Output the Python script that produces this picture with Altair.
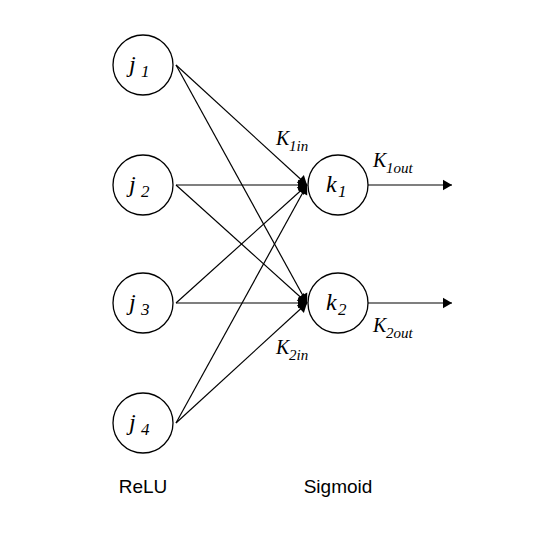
import altair as alt
import pandas as pd
import numpy as np

# node centres in page pixels
j_names = ["j1", "j2", "j3", "j4"]
j_x = [143, 143, 143, 143]
j_y = [65, 185, 303, 423]
k_names = ["k1", "k2"]
k_x = [338, 338]
k_y = [185, 303]

# edges: (from x, from y, to x, to y)
edge_x1 = [176, 176, 176, 176, 176, 176, 176, 176, 368, 368]
edge_y1 = [65, 65, 185, 185, 303, 303, 423, 423, 185, 303]
edge_x2 = [307, 307, 307, 307, 307, 307, 307, 307, 452, 452]
edge_y2 = [185, 303, 185, 303, 185, 303, 185, 303, 185, 303]

# text labels: main letter + subscript
lab_text = ["j", "1", "j", "2", "j", "3", "j", "4", "k", "1", "k", "2",
            "K", "1in", "K", "1out", "K", "2out", "K", "2in"]
lab_x = [129, 141, 129, 141, 129, 141, 129, 141, 326, 338, 326, 338,
         276, 289, 373, 386, 373, 386, 276, 289]
lab_y = [65, 72, 185, 192, 303, 310, 423, 430, 185, 192, 303, 310,
         139, 146, 161, 168, 326, 333, 348, 355]
lab_size = [24, 17, 24, 17, 24, 17, 24, 17, 24, 17, 24, 17,
            20, 15, 20, 15, 20, 15, 20, 15]

cap_text = ["ReLU", "Sigmoid"]
cap_x = [143, 338]
cap_y = [487, 487]

nodes = pd.DataFrame({"name": j_names + k_names, "x": j_x + k_x, "y": j_y + k_y})
edges = pd.DataFrame({"x": edge_x1, "y": edge_y1, "x2": edge_x2, "y2": edge_y2})
dx = edges.x2 - edges.x
dy = edges.y2 - edges.y
length = np.hypot(dx, dy)
edges["hx"] = edges.x2 - 6 * dx / length
edges["hy"] = edges.y2 - 6 * dy / length
edges["angle"] = np.degrees(np.arctan2(dx, -dy)) % 360
labels = pd.DataFrame({"t": lab_text, "x": lab_x, "y": lab_y, "s": lab_size})
caps = pd.DataFrame({"t": cap_text, "x": cap_x, "y": cap_y})

X = alt.Scale(domain=[8, 537])
Y = alt.Scale(domain=[8, 530], reverse=True)

lines = alt.Chart(edges).mark_rule(color="black", strokeWidth=1.2).encode(
    x=alt.X("x:Q", scale=X, axis=None), y=alt.Y("y:Q", scale=Y, axis=None),
    x2="x2", y2="y2")
heads = alt.Chart(edges).mark_point(shape="triangle", filled=True, color="black",
                                    size=110, opacity=1).encode(
    x=alt.X("hx:Q", scale=X, axis=None), y=alt.Y("hy:Q", scale=Y, axis=None),
    angle=alt.Angle("angle:Q", scale=None))
circles = alt.Chart(nodes).mark_point(shape="circle", fill="white", stroke="black",
                                      strokeWidth=1.3, size=3600, opacity=1,
                                      fillOpacity=1).encode(
    x=alt.X("x:Q", scale=X, axis=None), y=alt.Y("y:Q", scale=Y, axis=None))
texts = alt.Chart(labels).mark_text(font="Liberation Serif", fontStyle="italic",
                                    align="left", baseline="middle", color="black").encode(
    x=alt.X("x:Q", scale=X, axis=None), y=alt.Y("y:Q", scale=Y, axis=None),
    text="t:N", size=alt.Size("s:Q", scale=None))
captions = alt.Chart(caps).mark_text(font="Liberation Sans", fontSize=19,
                                     align="center", baseline="middle", color="black").encode(
    x=alt.X("x:Q", scale=X, axis=None), y=alt.Y("y:Q", scale=Y, axis=None),
    text="t:N")

chart = alt.layer(lines, heads, circles, texts, captions).properties(
    width=529, height=522, padding=0, autosize="none"
).configure_view(stroke=None)

chart.save("out.html", embed_options={"renderer": "svg", "actions": False})
